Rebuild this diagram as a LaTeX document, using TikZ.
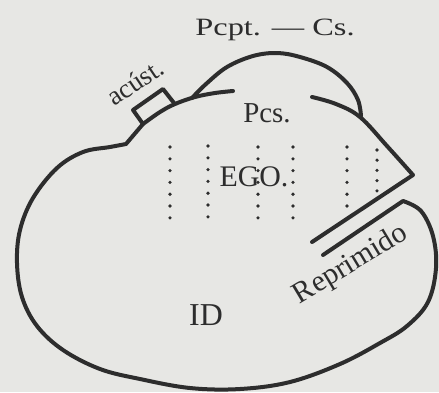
\documentclass[tikz,border=0pt]{standalone}
\usepackage{fontspec}
\setmainfont{Liberation Serif}
\usepackage{tikz}
\definecolor{Papel}{RGB}{231,231,228}
\definecolor{Tinta}{RGB}{45,45,45}

\begin{document}
\begin{tikzpicture}[
        x=1bp, y=-1bp,
        wall/.style={
            draw=Tinta,
            line width=4bp,
            line join=round,
            line cap=round
        },
        dots/.style={
            draw=Tinta,
            line width=3.6bp,
            line cap=round,
            dash pattern=on 0bp off 11.8bp
        },
        word/.style={
            text=Tinta,
            inner sep=0pt
        }
    ]
        % Page
        \fill[Papel] (0,0) rectangle (439,392);
        \useasboundingbox (0,0) rectangle (439,392);

        % Outline of ID and EGO (from the lower bar round to the top)
        \draw[wall] (323,255) -- plot[smooth, tension=0.6] coordinates {(403,201) (421,211) (433,236) (436,268) (428,302) (407,326) (380,343) (340,364) (290,382) (240,389) (190,388) (140,379) (100,369) (63,350) (37,326) (22,297) (17,263) (20,230) (33,198) (57,168) (83,152) (110,147) (126,144)}
            -- (143,124) -- plot[smooth, tension=0.6] coordinates {(143,124) (160,112) (175,104) (195,97) (215,93) (233,91)};
        \draw[wall] plot[smooth, tension=0.6] coordinates {(312,97) (336,104) (360,117) (387,146) (413,175)} -- (312,242);

        % Pcpt.-Cs. cap and the acoustic box
        \draw[wall] plot[smooth, tension=0.6] coordinates {(192,98) (206,84) (227,67) (253,56) (277,53) (300,57) (327,67) (347,83) (358,100) (361,116)};
        \draw[wall] (143,124) -- (133,110) -- (163,89) -- (174,103);

        % Texts
        \node[word, font=\fontsize{25}{25}\selectfont, xscale=1.3, anchor=base] (pcpt) at (275,35) {Pcpt. — Cs.};
        \node[word, font=\fontsize{29}{29}\selectfont, anchor=base] (pcs) at (267,122) {Pcs.};
        \node[word, font=\fontsize{30}{30}\selectfont, anchor=base] (ego) at (254,186) {EGO.};
        \node[word, font=\fontsize{32}{32}\selectfont, anchor=base] (id) at (206,325) {ID};
        \node[word, font=\fontsize{30}{30}\selectfont, rotate=31] (rep) at (351,265) {Reprimido};
        \node[word, font=\fontsize{27}{27}\selectfont, rotate=34] (acust) at (135,82) {acúst.};

        % Dotted columns
        \foreach \x/\ya/\yb in {170/147/218.5, 208/146/217.5, 258/147/218.5, 293/147/218.5, 347/147/208.5}
            \draw[dots] (\x,\ya) -- (\x,\yb);
        \draw[dots, dash pattern=on 0bp off 10.2bp] (377,150) -- (377,191);
    \end{tikzpicture}
\end{document}
